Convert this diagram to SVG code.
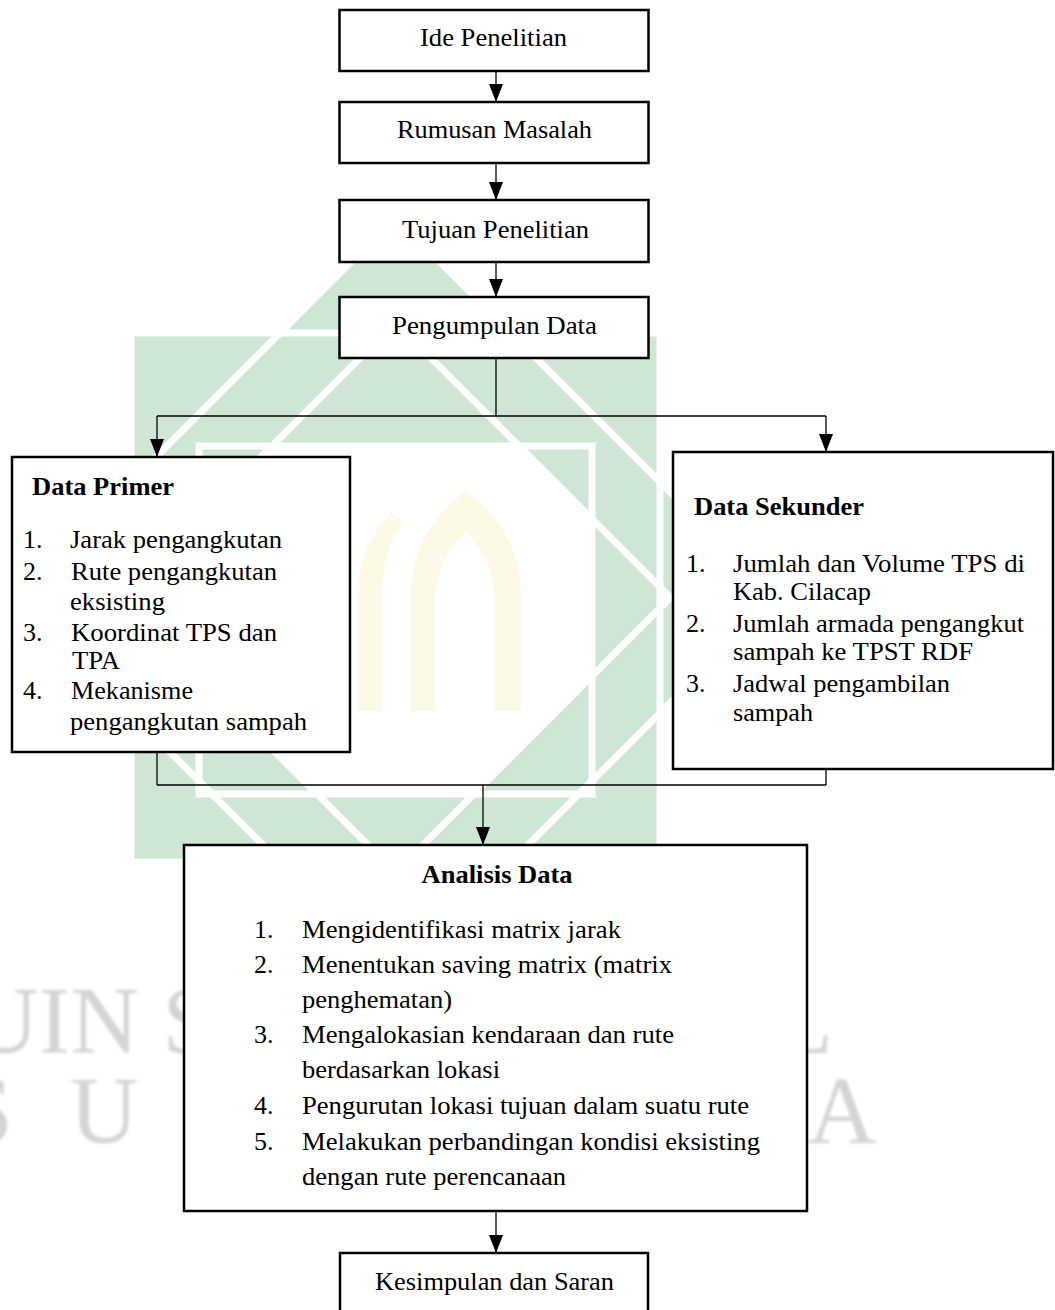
<svg xmlns="http://www.w3.org/2000/svg" width="1055" height="1310" viewBox="0 0 1055 1310">
<defs>
<style>
.box{fill:#fff;stroke:#000;stroke-width:2.5}
.t{font-family:"Liberation Serif","Times New Roman",serif;fill:#000}
.c{font-size:26px}
.l{font-size:26px}
.a{font-size:26px}
.b{font-weight:bold}
.conn{fill:none;stroke:#000;stroke-width:1.3}
.wm{fill:#cfe5d6}
.wl{fill:none;stroke:#fff;stroke-width:7}
.arch{fill:#fcf9e6}
.wt{font-family:"Liberation Serif","Times New Roman",serif;font-size:95px;fill:#d4d4d4}
</style>
<marker id="ah" markerWidth="18" markerHeight="14" refX="18" refY="7" orient="auto" markerUnits="userSpaceOnUse"><path d="M0,0 L18,7 L0,14 z" fill="#000"/></marker>
<filter id="soft"><feGaussianBlur stdDeviation="1.5"/></filter>
</defs>
<rect x="0" y="0" width="1055" height="1310" fill="#fff"/>
<g id="watermark">
<path class="wm" fill-rule="evenodd" d="M131,333 H660 V862 H131 Z M199,446 H592 V794 H199 Z"/>
<path class="wm" fill-rule="evenodd" d="M395.5,217.5 L775.5,597.5 L395.5,977.5 L15.5,597.5 Z M395.5,322.5 L670.5,597.5 L395.5,872.5 L120.5,597.5 Z"/>
<path class="wl" d="M131,333 H660 V862 H131 Z M199,446 H592 V794 H199 Z"/>
<path class="wl" d="M395.5,217.5 L775.5,597.5 L395.5,977.5 L15.5,597.5 Z M395.5,322.5 L670.5,597.5 L395.5,872.5 L120.5,597.5 Z"/>
<path class="arch" fill-rule="evenodd" d="M411,711 L411,590 Q413,530 466,491 Q519,530 521,590 L521,711 Z M435,711 L435,600 Q437,556 466,532 Q493,556 495,600 L495,711 Z"/>
<path class="arch" d="M358,711 L358,592 Q360,542 392,512 L402,522 Q382,550 382,597 L382,711 Z"/>
<g filter="url(#soft)">
<text class="wt" x="-30" y="1053">UIN S</text>
<text class="wt" x="775" y="1053">L</text>
<text class="wt" x="-40" y="1143" letter-spacing="57">SU</text>
<text class="wt" x="808" y="1143">A</text>
</g>
</g>
<g id="connectors">
<path class="conn" d="M496,71 V102" marker-end="url(#ah)"/>
<path class="conn" d="M496,163 V200" marker-end="url(#ah)"/>
<path class="conn" d="M496,262 V297" marker-end="url(#ah)"/>
<path class="conn" d="M496,358 V416"/>
<path class="conn" d="M157,416 H826"/>
<path class="conn" d="M157,416 V457" marker-end="url(#ah)"/>
<path class="conn" d="M826,416 V452" marker-end="url(#ah)"/>
<path class="conn" d="M157,746 V785"/>
<path class="conn" d="M826,766 V785"/>
<path class="conn" d="M157,785 H826"/>
<path class="conn" d="M483,785 V845" marker-end="url(#ah)"/>
<path class="conn" d="M496,1211 V1253" marker-end="url(#ah)"/>
</g>
<g id="n1"><rect class="box" x="339.5" y="10" width="309" height="61"/><text class="t c" x="420" y="46" textLength="147" lengthAdjust="spacingAndGlyphs">Ide Penelitian</text></g>
<g id="n2"><rect class="box" x="339.5" y="102" width="309" height="61"/><text class="t c" x="397" y="138" textLength="195" lengthAdjust="spacingAndGlyphs">Rumusan Masalah</text></g>
<g id="n3"><rect class="box" x="339.5" y="200" width="309" height="62"/><text class="t c" x="402" y="238" textLength="187" lengthAdjust="spacingAndGlyphs">Tujuan Penelitian</text></g>
<g id="n4"><rect class="box" x="339.5" y="297" width="309" height="61"/><text class="t c" x="392" y="334" textLength="205" lengthAdjust="spacingAndGlyphs">Pengumpulan Data</text></g>
<g id="n5"><rect class="box" x="12" y="457" width="338" height="295"/>
<text class="t l b" x="32" y="495" textLength="142" lengthAdjust="spacingAndGlyphs">Data Primer</text>
<text class="t l" x="23" y="548">1.</text><text class="t l" x="70" y="548" textLength="212" lengthAdjust="spacingAndGlyphs">Jarak pengangkutan</text>
<text class="t l" x="23" y="580">2.</text><text class="t l" x="71" y="580" textLength="206" lengthAdjust="spacingAndGlyphs">Rute pengangkutan</text>
<text class="t l" x="70" y="610" textLength="95" lengthAdjust="spacingAndGlyphs">eksisting</text>
<text class="t l" x="23" y="641">3.</text><text class="t l" x="71" y="641" textLength="206" lengthAdjust="spacingAndGlyphs">Koordinat TPS dan</text>
<text class="t l" x="72" y="669" textLength="48" lengthAdjust="spacingAndGlyphs">TPA</text>
<text class="t l" x="23" y="699">4.</text><text class="t l" x="71" y="699" textLength="122" lengthAdjust="spacingAndGlyphs">Mekanisme</text>
<text class="t l" x="70" y="730" textLength="237" lengthAdjust="spacingAndGlyphs">pengangkutan sampah</text>
</g>
<g id="n6"><rect class="box" x="673" y="452" width="380" height="317"/>
<text class="t l b" x="694" y="515" textLength="170" lengthAdjust="spacingAndGlyphs">Data Sekunder</text>
<text class="t l" x="686" y="572">1.</text><text class="t l" x="733" y="572" textLength="292" lengthAdjust="spacingAndGlyphs">Jumlah dan Volume TPS di</text>
<text class="t l" x="733" y="600" textLength="138" lengthAdjust="spacingAndGlyphs">Kab. Cilacap</text>
<text class="t l" x="686" y="632">2.</text><text class="t l" x="733" y="632" textLength="291" lengthAdjust="spacingAndGlyphs">Jumlah armada pengangkut</text>
<text class="t l" x="733" y="660" textLength="240" lengthAdjust="spacingAndGlyphs">sampah ke TPST RDF</text>
<text class="t l" x="686" y="692">3.</text><text class="t l" x="733" y="692" textLength="217" lengthAdjust="spacingAndGlyphs">Jadwal pengambilan</text>
<text class="t l" x="733" y="721" textLength="80" lengthAdjust="spacingAndGlyphs">sampah</text>
</g>
<g id="n7"><rect class="box" x="184" y="845" width="623" height="366"/>
<text class="t a b" x="421.6" y="883" textLength="151" lengthAdjust="spacingAndGlyphs">Analisis Data</text>
<text class="t a" x="254" y="938">1.</text><text class="t a" x="302" y="938" textLength="319" lengthAdjust="spacingAndGlyphs">Mengidentifikasi matrix jarak</text>
<text class="t a" x="254" y="973">2.</text><text class="t a" x="302" y="973" textLength="370" lengthAdjust="spacingAndGlyphs">Menentukan saving matrix (matrix</text>
<text class="t a" x="302" y="1008" textLength="150" lengthAdjust="spacingAndGlyphs">penghematan)</text>
<text class="t a" x="254" y="1043">3.</text><text class="t a" x="302" y="1043" textLength="372" lengthAdjust="spacingAndGlyphs">Mengalokasian kendaraan dan rute</text>
<text class="t a" x="302" y="1078" textLength="198" lengthAdjust="spacingAndGlyphs">berdasarkan lokasi</text>
<text class="t a" x="254" y="1114">4.</text><text class="t a" x="302" y="1114" textLength="447" lengthAdjust="spacingAndGlyphs">Pengurutan lokasi tujuan dalam suatu rute</text>
<text class="t a" x="254" y="1150">5.</text><text class="t a" x="302" y="1150" textLength="458" lengthAdjust="spacingAndGlyphs">Melakukan perbandingan kondisi eksisting</text>
<text class="t a" x="302" y="1185" textLength="264" lengthAdjust="spacingAndGlyphs">dengan rute perencanaan</text>
</g>
<g id="n8"><rect class="box" x="340" y="1253" width="308" height="62"/>
<text class="t a" x="375" y="1290" textLength="239" lengthAdjust="spacingAndGlyphs">Kesimpulan dan Saran</text>
</g>
</svg>
